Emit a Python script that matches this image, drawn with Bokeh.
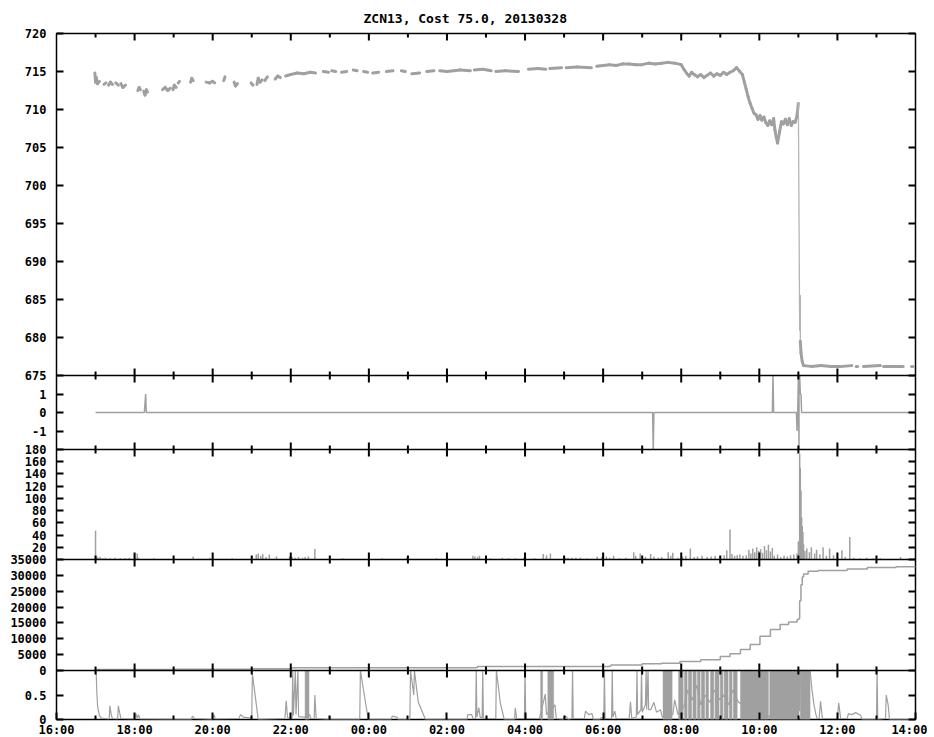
import numpy as np
from bokeh.plotting import figure
from bokeh.models import Range1d, LinearAxis, FixedTicker, Span, ColumnDataSource
from bokeh.embed import file_html
from bokeh.resources import INLINE

TITLE = "ZCN13, Cost 75.0, 20130328"

x_tick_labels = ["16:00", "18:00", "20:00", "22:00", "00:00", "02:00",
                 "04:00", "06:00", "08:00", "10:00", "12:00", "14:00"]
price_ticks = [675, 680, 685, 690, 695, 700, 705, 710, 715, 720]
signal_ticks = [-1, 0, 1]
volume_ticks = [20, 40, 60, 80, 100, 120, 140, 160, 180]
cumvol_ticks = [0, 5000, 10000, 15000, 20000, 25000, 30000, 35000]
activity_ticks = [0, 0.5]

# ---- panel 1: price (None = gap) ----
price_time = [
    "16:59", "17:00", "17:01", "17:03", "17:06", None,
    "17:13", "17:16", None,
    "17:20", "17:23", "17:26", None,
    "17:31", "17:35", None,
    "17:39", "17:42", "17:46", None,
    "18:05", "18:07", "18:09", None,
    "18:14", "18:16", "18:18", "18:20", None,
    "18:43", "18:47", "18:51", "18:55", None,
    "18:59", "19:01", "19:04", None,
    "19:07", "19:09", None,
    "19:26", "19:28", "19:30", None,
    "19:50", "19:55", "20:00", "20:03", None,
    "20:17", "20:19", None,
    "20:33", "20:35", "20:38", None,
    "20:59", "21:02", None,
    "21:08", "21:10", "21:13", "21:16", None,
    "21:20", "21:24", None,
    "21:36", "21:40", "21:44", None,
    "21:52", "22:00", "22:10", "22:20", "22:30", "22:38", None,
    "22:50", "22:58", None,
    "23:03", "23:09", None,
    "23:18", "23:26", None,
    "23:36", "23:42", None,
    "23:52", "23:58", None,
    "00:06", "00:15", None,
    "00:27", "00:37", None,
    "00:50", "00:56", None,
    "01:06", "01:18", None,
    "01:29", "01:40", None,
    "01:49", "02:00", "02:20", "02:36", None,
    "02:42", "02:55", "03:08", None,
    "03:15", "03:30", "03:50", None,
    "04:05", "04:20", "04:32", None,
    "04:38", "04:56", None,
    "05:03", "05:20", "05:42", None,
    "05:50", "06:00", "06:10", "06:20", "06:30", "06:40", "06:50", "07:00", "07:10", "07:20",
    "07:30", "07:40", "07:50", "08:00", "08:04", "08:08", "08:12", "08:16", "08:20", "08:25",
    "08:30", "08:35", "08:40", "08:45", "08:50", "08:55", "09:00", "09:05", "09:10", "09:15",
    "09:20", "09:25", "09:30", "09:34", "09:37", "09:40", "09:43", "09:46", "09:49", "09:52",
    "09:55", "09:58", "10:01", "10:04", "10:07", "10:10", "10:13", "10:16", "10:19", "10:22",
    "10:24", "10:26", "10:28", "10:31", "10:34", "10:37", "10:40", "10:43", "10:46", "10:49",
    "10:52", "10:55", "10:58", "11:00", "11:02", "11:03", "11:03", "11:04", "11:06", "11:08",
    "11:20", "11:35", "11:50", "12:05", None,
    "12:08", "12:22", None,
    "12:29", "12:31", None,
    "12:40", "13:06", None,
    "13:11", "13:41", None,
    "13:54", "13:56",
]
price_value = [
    714.8, 713.6, 714.2, 713.4, 713.7, None,
    713.3, 713.5, None,
    713.2, 713.6, 713.3, None,
    713.5, 713.2, None,
    713.4, 712.9, 713.2, None,
    712.5, 712.9, 712.6, None,
    712.4, 711.9, 712.6, 712.3, None,
    712.6, 712.9, 712.5, 712.8, None,
    712.6, 713.2, 712.9, None,
    713.5, 713.7, None,
    713.6, 714.1, 713.8, None,
    713.6, 713.5, 713.7, 713.5, None,
    713.8, 714.3, None,
    713.6, 713.1, 713.4, None,
    713.5, 713.2, None,
    713.3, 714.1, 713.6, 713.9, None,
    713.8, 714.3, None,
    714.0, 714.4, 714.2, None,
    714.4, 714.6, 714.8, 714.7, 714.9, 714.8, None,
    715.0, 714.9, None,
    715.1, 715.0, None,
    714.9, 715.0, None,
    715.2, 715.1, None,
    715.0, 714.9, None,
    714.8, 714.9, None,
    715.0, 715.1, None,
    715.1, 715.0, None,
    714.7, 714.8, None,
    715.0, 715.1, None,
    715.1, 715.0, 715.2, 715.1, None,
    715.2, 715.3, 715.1, None,
    715.0, 715.1, 715.0, None,
    715.3, 715.4, 715.3, None,
    715.4, 715.5, None,
    715.5, 715.6, 715.5, None,
    715.7, 715.8, 715.9, 715.8, 716.0, 716.0, 715.9, 715.9, 716.1, 716.0,
    716.1, 716.2, 716.1, 715.9, 715.3, 714.8, 714.4, 714.9, 714.6, 714.3,
    714.6, 714.2, 714.5, 714.8, 714.4, 714.7, 714.5, 714.9, 714.6, 714.9,
    715.1, 715.5, 715.0, 714.6, 713.6, 712.6, 711.6, 710.8, 710.1, 709.5,
    709.3, 708.7, 709.2, 708.6, 709.0, 708.3, 707.9, 708.5, 708.0, 708.8,
    707.3, 706.4, 705.6, 707.0, 708.4, 708.1, 708.7, 708.0, 708.8, 707.9,
    708.4, 708.3, 709.2, 710.8, 681.0, 685.5, 679.5, 678.0, 676.8, 676.3,
    676.2, 676.3, 676.2, 676.2, None,
    676.2, 676.3, None,
    676.2, 676.2, None,
    676.2, 676.3, None,
    676.2, 676.2, None,
    676.2, 676.2,
]

# ---- panel 2: signal ----
signal_time = ["17:00", "18:15", "18:16", "18:17", "18:18", "07:16", "07:17", "07:18",
               "10:20", "10:21", "10:22", "10:57", "10:58", "10:59", "11:00", "11:01",
               "11:01", "11:02", "11:03", "11:04", "11:05", "14:00"]
signal_value = [0, 0, 0.5, 1, 0, 0, -2, 0,
                0, 2, 0, 0, -1, 0, 2, -2,
                2, 2, 1, 1, 0, 0]

# ---- panel 3: traded volume (impulses) ----
volume_time = [
    "17:00", "17:02", "17:04", "17:07", "17:11", "17:15", "17:22", "17:30", "17:38", "17:45",
    "17:52", "18:00", "18:04", "18:06", "18:30", "19:05", "19:30", "19:56", "20:30", "21:07",
    "21:10", "21:14", "21:17", "21:22", "21:27", "21:38", "21:58", "22:02", "22:07", "22:12",
    "22:18", "22:22", "22:27", "22:37", "23:20", "23:50", "00:20", "00:58", "01:20", "01:44",
    "02:10", "02:40", "02:43", "02:47", "02:50", "03:07", "03:15", "03:25", "03:35", "03:45",
    "03:58", "04:15", "04:28", "04:33", "04:39", "05:02", "05:06", "05:12", "05:18", "05:25",
    "05:35", "05:51", "05:58", "06:05", "06:10", "06:16", "06:25", "06:35", "06:47", "06:50",
    "06:57", "07:05", "07:13", "07:18", "07:25", "07:30", "07:40", "07:44", "07:47", "07:55",
    "08:02", "08:07", "08:14", "08:20", "08:25", "08:32", "08:40", "08:46", "08:52", "09:00",
    "09:06", "09:10", "09:15", "09:18", "09:22", "09:26", "09:30", "09:35", "09:40", "09:44",
    "09:47", "09:50", "09:53", "09:56", "09:59", "10:02", "10:05", "10:08", "10:11", "10:14",
    "10:17", "10:20", "10:23", "10:28", "10:33", "10:38", "10:43", "10:48", "10:53", "10:58",
    "11:00", "11:02", "11:03", "11:04", "11:05", "11:06", "11:07", "11:08", "11:10", "11:13",
    "11:17", "11:20", "11:25", "11:28", "11:33", "11:38", "11:43", "11:48", "11:54", "12:00",
    "12:07", "12:12", "12:19", "12:25", "12:35", "12:45", "12:55", "13:06", "13:20", "13:37",
    "13:50",
]
volume_value = [
    47, 5, 3, 4, 2, 3, 2, 3, 2, 2,
    3, 9, 10, 3, 2, 1, 5, 3, 2, 8,
    10, 6, 9, 4, 8, 5, 5, 4, 3, 4,
    3, 4, 5, 17, 2, 1, 2, 3, 1, 2,
    1, 6, 5, 4, 6, 2, 1, 3, 2, 2,
    3, 2, 9, 7, 10, 3, 3, 3, 3, 3,
    2, 5, 4, 5, 3, 6, 2, 3, 12, 6,
    10, 4, 9, 5, 3, 4, 12, 6, 11, 3,
    5, 6, 18, 4, 5, 6, 4, 5, 6, 5,
    7, 15, 49, 9, 6, 7, 8, 6, 7, 16,
    10, 18, 12, 20, 14, 17, 11, 22, 15, 24,
    13, 19, 6, 8, 4, 6, 5, 7, 8, 10,
    30, 173, 150, 113, 69, 55, 45, 25, 14, 18,
    12, 20, 10, 16, 8, 20, 6, 18, 7, 5,
    15, 4, 37, 3, 2, 3, 2, 2, 1, 4,
    1,
]

# ---- panel 4: cumulative volume ----
cumvol_time = ["17:00", "19:00", "21:00", "22:00", "22:01", "02:45", "02:47", "06:10", "06:12", "07:00",
               "07:30", "07:58", "08:30", "09:00", "09:15", "09:31", "09:46", "10:01", "10:17", "10:32",
               "10:45", "10:58", "11:01", "11:02", "11:04", "11:06", "11:08", "11:15", "11:30", "12:15",
               "12:46", "13:30", "14:00"]
cumvol_value = [350, 420, 520, 600, 900, 950, 1300, 1400, 1750, 2100,
                2300, 2860, 3400, 4450, 5300, 6600, 8200, 10800, 12900, 14500,
                15300, 16100, 16400, 22000, 27000, 29500, 30400, 31300, 31500, 32000,
                32500, 32700, 32800]

# ---- panel 5: activity (0..1) ----
activity_time = [
    "17:00", "17:01", "17:02", "17:03", "17:04", "17:06", "17:09",
    "17:21", "17:22", "17:24", "17:26",
    "17:34", "17:35", "17:37", "17:39",
    "18:00", "18:02", "18:04", "18:06", "18:08",
    "19:27", "19:29", "19:32",
    "20:00", "20:02", "20:04",
    "20:40", "20:43", "20:47",
    "21:00", "21:01", "21:10",
    "21:51", "21:53", "21:55",
    "22:02", "22:03", "22:04", "22:07", "22:08", "22:11", "22:12",
    "22:21", "22:29", "22:31", "22:36", "22:37", "22:39",
    "22:59", "23:00", "23:02",
    "23:46", "23:47", "23:59",
    "00:34", "00:36", "00:43", "00:45",
    "01:03", "01:04", "01:09", "01:10", "01:16", "01:27",
    "01:58", "01:59", "02:01",
    "02:31", "02:32", "02:38", "02:40",
    "02:44", "02:45", "02:46", "02:49", "02:51", "02:54", "02:55", "02:56",
    "03:15", "03:16", "03:22", "03:28",
    "03:44", "03:45", "03:47",
    "03:59", "04:00", "04:01",
    "04:22", "04:29", "04:31", "04:33", "04:46", "04:48",
    "04:59", "05:00", "05:04", "05:06",
    "05:12", "05:13", "05:14",
    "05:31", "05:33", "05:38", "05:43", "05:45",
    "05:55", "05:57", "06:00",
    "06:01", "06:02", "06:03",
    "06:13", "06:14", "06:15", "06:18", "06:20",
    "06:40", "06:42", "06:44",
    "06:51", "06:52", "06:53", "06:58", "06:59", "07:00", "07:05", "07:06", "07:07", "07:09", "07:10",
    "07:13", "07:18", "07:22", "07:28", "07:31",
    "07:47", "07:50", "07:55",
    "08:04", "08:10", "08:17", "08:24", "08:30", "08:37", "08:44", "08:51", "08:59", "09:05", "09:13", "09:19", "09:28",
    "10:15", "11:01", "11:02", "11:03",
    "11:18", "11:21", "11:24", "11:27", "11:29",
    "11:32", "11:34", "11:37",
    "12:00", "12:02", "12:05",
    "12:15", "12:17", "12:22", "12:28", "12:36", "12:38",
    "13:00", "13:01", "13:02",
    "13:14", "13:15", "13:18", "13:20",
    "14:00",
]
activity_value = [
    1.0, 0.95, 0.55, 0.3, 0.2, 0.08, 0.03,
    0.01, 0.28, 0.1, 0.02,
    0.01, 0.28, 0.14, 0.02,
    0.01, 0.12, 0.03, 0.1, 0.01,
    0.0, 0.07, 0.02,
    0.0, 0.1, 0.01,
    0.02, 0.1, 0.05,
    0.03, 0.93, 0.0,
    0.02, 0.38, 0.04,
    0.02, 1.0, 0.08, 1.0, 0.1, 1.0, 0.06,
    0.05, 0.1, 0.02, 0.02, 0.5, 0.02,
    0.0, 0.07, 0.0,
    0.0, 1.0, 0.0,
    0.0, 0.07, 0.05, 0.0,
    0.0, 1.0, 0.5, 1.0, 0.35, 0.0,
    0.0, 0.04, 0.0,
    0.0, 0.1, 0.1, 0.02,
    0.02, 1.0, 0.05, 0.24, 0.05, 0.02, 1.0, 0.02,
    0.02, 1.0, 0.34, 0.0,
    0.0, 0.24, 0.02,
    0.02, 1.0, 0.02,
    0.02, 0.4, 0.52, 0.1, 0.3, 0.02,
    0.0, 0.07, 0.05, 0.0,
    0.02, 1.0, 0.02,
    0.02, 0.17, 0.1, 0.12, 0.0,
    0.0, 0.04, 0.03,
    0.02, 1.0, 0.02,
    0.02, 1.0, 0.05, 0.17, 0.02,
    0.02, 0.36, 0.02,
    0.05, 1.0, 0.1, 0.2, 1.0, 0.15, 0.3, 1.0, 0.2, 1.0, 0.2,
    0.2, 0.35, 0.15, 0.2, 0.05,
    0.1, 0.4, 0.1,
    0.25, 0.6, 0.4, 0.7, 0.3, 0.5, 0.35, 0.6, 0.4, 0.5, 0.3, 0.6, 0.35,
    0.05, 1.0, 0.17, 1.0,
    1.0, 0.6, 0.3, 0.1, 0.02,
    0.02, 0.37, 0.02,
    0.02, 0.34, 0.02,
    0.02, 0.12, 0.1, 0.14, 0.08, 0.0,
    0.0, 1.0, 0.0,
    0.02, 0.5, 0.3, 0.0,
    0.0,
]
# stretches where the activity trace is saturated (solid gray)
activity_block_start = ["22:22", "04:24", "04:35", "07:32", "07:56", "08:05", "08:11", "08:18", "08:25", "08:31",
                        "08:38", "08:45", "08:52", "09:00", "09:06", "09:14", "09:20", "09:31", "10:16", "11:03"]
activity_block_end = ["22:28", "04:27", "04:44", "07:46", "08:03", "08:09", "08:16", "08:23", "08:29", "08:36",
                      "08:42", "08:50", "08:58", "09:04", "09:12", "09:18", "09:26", "10:14", "11:01", "11:18"]

assert len(price_time) == len(price_value)
assert len(signal_time) == len(signal_value)
assert len(volume_time) == len(volume_value)
assert len(cumvol_time) == len(cumvol_value)
assert len(activity_time) == len(activity_value)
assert len(activity_block_start) == len(activity_block_end)


def hours(s):
    """hours elapsed since 16:00 of the session start"""
    if s is None:
        return np.nan
    h, m = s.split(":")
    v = int(h) + int(m) / 60.0 - 16.0
    return v + 24.0 if v < 0 else v


def hrs(lst):
    return np.array([hours(s) for s in lst], dtype=float)


def vals(lst):
    return np.array([np.nan if v is None else v for v in lst], dtype=float)


# ---------------- layout ----------------
FRAME_W, FRAME_H = 859, 686
GRAY = "#a0a0a0"
INK = "#000000"
FONT = "DejaVu Sans Mono"
# (value low, value high, pixel band bottom, pixel band top) measured from frame bottom
bands = {
    "price": (675, 720, 344, 686),
    "signal": (-2, 2, 270, 344),
    "volume": (0, 180, 160, 270),
    "cumvol": (0, 35000, 49, 160),
    "activity": (0, 1, 0, 49),
}
boundaries = [49, 160, 270, 344]

p = figure(frame_width=FRAME_W, frame_height=FRAME_H,
           x_range=Range1d(0, 22), y_range=Range1d(0, FRAME_H),
           x_axis_location=None, y_axis_location=None,
           output_backend="svg", toolbar_location=None,
           min_border_left=56, min_border_right=12, min_border_top=32, min_border_bottom=17,
           title=TITLE)
p.grid.visible = False
p.outline_line_color = INK
p.outline_line_width = 1.5

p.title.text_font = FONT
p.title.text_font_size = "13px"
p.title.text_font_style = "bold"
p.title.text_color = INK
p.title.align = "left"
p.title.offset = 307
p.title.standoff = 16

p.extra_y_ranges = {
    name: Range1d(lo - plo * (hi - lo) / (phi - plo), hi + (FRAME_H - phi) * (hi - lo) / (phi - plo))
    for name, (lo, hi, plo, phi) in bands.items()
}

# y ticks / labels
ytick_pos, ytick_lab = [], {}
for name, tv in [("price", price_ticks), ("signal", signal_ticks), ("volume", volume_ticks),
                 ("cumvol", cumvol_ticks), ("activity", activity_ticks)]:
    lo, hi, plo, phi = bands[name]
    for v in tv:
        pos = round(plo + (v - lo) / (hi - lo) * (phi - plo), 3)
        ytick_pos.append(pos)
        ytick_lab[pos] = f"{v:g}"

yl = LinearAxis(ticker=FixedTicker(ticks=ytick_pos, minor_ticks=[]),
                major_label_overrides=ytick_lab,
                major_tick_in=7, major_tick_out=0, minor_tick_in=0, minor_tick_out=0,
                major_tick_line_color=INK, major_tick_line_width=2,
                axis_line_color=None, major_label_standoff=10,
                major_label_text_font=FONT, major_label_text_font_size="12px",
                major_label_text_font_style="bold", major_label_text_color=INK)
p.add_layout(yl, "left")
yr = LinearAxis(ticker=FixedTicker(ticks=ytick_pos, minor_ticks=[]),
                major_label_overrides={k: "" for k in ytick_pos},
                major_tick_in=7, major_tick_out=0, minor_tick_in=0, minor_tick_out=0,
                major_tick_line_color=INK, major_tick_line_width=2,
                axis_line_color=None, major_label_standoff=0,
                major_label_text_font_size="12px")
p.add_layout(yr, "right")

major_h = [float(h) for h in range(0, 23, 2)]
minor_h = [float(h) for h in range(1, 22, 2)]
xb = LinearAxis(ticker=FixedTicker(ticks=major_h, minor_ticks=minor_h),
                major_label_overrides={h: lab for h, lab in zip(major_h, x_tick_labels)},
                major_tick_in=7, major_tick_out=0, minor_tick_in=4, minor_tick_out=0,
                major_tick_line_color=INK, major_tick_line_width=2,
                minor_tick_line_color=INK, minor_tick_line_width=2,
                axis_line_color=None, major_label_standoff=3,
                major_label_text_font=FONT, major_label_text_font_size="12px",
                major_label_text_font_style="bold", major_label_text_color=INK)
p.add_layout(xb, "below")

# ---------------- data ----------------
# price: consecutive points joined; big jumps are thin connectors, dense trading drawn heavy
pt, pv = hrs(price_time), vals(price_value)
ok = ~(np.isnan(pt[:-1]) | np.isnan(pt[1:]))
jump = np.abs(pv[1:] - pv[:-1]) > 4
price_src = ColumnDataSource(dict(
    x0=pt[:-1][ok], y0=pv[:-1][ok], x1=pt[1:][ok], y1=pv[1:][ok],
    w=np.where(jump, 1.3, 3.0)[ok],
    c=np.where(jump, "#b4b4b4", GRAY)[ok].tolist(),
))
p.segment(x0="x0", y0="y0", x1="x1", y1="y1", source=price_src, y_range_name="price",
          line_color="c", line_width="w", line_cap="round")

p.line(hrs(signal_time), vals(signal_value), y_range_name="signal",
       line_color=GRAY, line_width=1.5)

vt = hrs(volume_time)
vol_src = ColumnDataSource(dict(x0=vt, x1=vt.copy(), y0=np.zeros_like(vt), y1=vals(volume_value)))
p.segment(x0="x0", y0="y0", x1="x1", y1="y1", source=vol_src,
          y_range_name="volume", line_color=GRAY, line_width=1.5)

p.step(hrs(cumvol_time), vals(cumvol_value), mode="after", y_range_name="cumvol",
       line_color=GRAY, line_width=1.5)

bs = hrs(activity_block_start)
p.quad(left=bs, right=hrs(activity_block_end), bottom=np.zeros_like(bs), top=np.ones_like(bs),
       y_range_name="activity", fill_color=GRAY, line_color=GRAY, line_width=0.5)
p.line(hrs(activity_time), vals(activity_value), y_range_name="activity",
       line_color=GRAY, line_width=1.2)

# ---------------- panel separators and their x ticks ----------------
for b in boundaries:
    p.add_layout(Span(location=b, dimension="width", line_color=INK, line_width=1.5))

tick_x0, tick_y0, tick_y1 = [], [], []
for h in range(1, 22):
    ln = 7.0 if h % 2 == 0 else 4.0
    for b in boundaries:
        tick_x0.append(float(h)); tick_y0.append(b - ln); tick_y1.append(b + ln)
    tick_x0.append(float(h)); tick_y0.append(FRAME_H - ln); tick_y1.append(float(FRAME_H))
tx = np.array(tick_x0)
tick_src = ColumnDataSource(dict(x0=tx, x1=tx.copy(), y0=np.array(tick_y0), y1=np.array(tick_y1)))
p.segment(x0="x0", y0="y0", x1="x1", y1="y1", source=tick_src,
          line_color=INK, line_width=2)

open("out.html", "w").write(file_html(p, INLINE))
